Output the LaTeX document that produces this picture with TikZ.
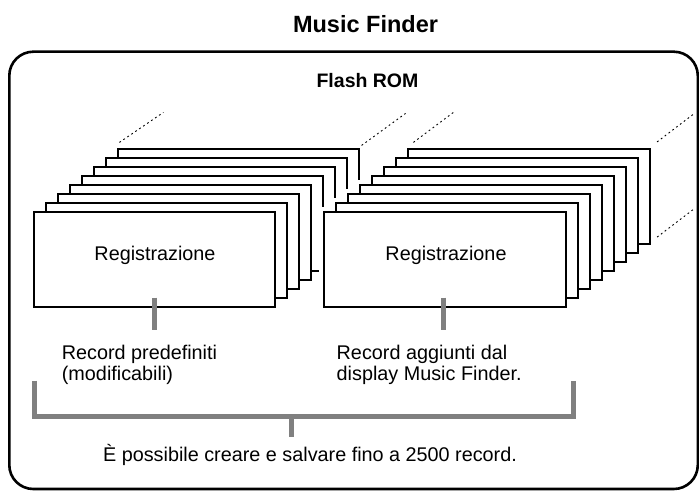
\documentclass[tikz,border=0pt]{standalone}
\usepackage{fontspec}
\setmainfont{Liberation Sans}
\definecolor{tickgray}{RGB}{128,128,128}
\begin{document}
\begin{tikzpicture}[x=1pt,y=-1pt,
  card/.style={draw=black, fill=white, line width=1.2pt, minimum height=95pt, inner sep=0pt},
  halo/.style={draw=white, fill=white, line width=10pt, minimum height=95pt, inner sep=0pt},
  tickln/.style={draw=tickgray, line width=5pt, line join=miter},
  dashln/.style={line width=0.9pt, dash pattern=on 1.8pt off 3pt},
  body/.style={font=\fontsize{19.8}{21}\selectfont, inner sep=0pt, align=left},
]
\clip (0,0) rectangle (699,492);
\node[draw, line width=2.6pt, rounded corners=24pt, minimum width=688.5pt, minimum height=437.3pt, inner sep=0pt] (frame) at (353.55,270.35) {};

\node[font=\bfseries\fontsize{23.5}{26}\selectfont, anchor=base, inner sep=0pt] (title) at (365.5,32.7) {Music Finder};
\node[font=\bfseries\fontsize{19.5}{21}\selectfont, anchor=base, inner sep=0pt] (rom) at (367.5,87.3) {Flash ROM};

% left stack
\foreach \k in {7,...,0} \node[card, minimum width=241pt] (L\k) at ({154.5+12*\k},{259.5-9*\k}) {};
% right stack with white halo
\foreach \k in {7,...,0} \node[halo, minimum width=242pt] (H\k) at ({445+12*\k},{259.5-9*\k}) {};
\foreach \k in {7,...,0} \node[card, minimum width=242pt] (R\k) at ({445+12*\k},{259.5-9*\k}) {};

% dashed continuation lines
\draw[dashln] ([shift={(2pt,6pt)}]L7.north west) -- ++(44pt,30pt);
\draw[dashln] ([shift={(2pt,3pt)}]L7.north east) -- ++(44pt,32pt);
\draw[dashln] ([shift={(6pt,6pt)}]R7.north west) -- ++(40pt,30pt);
\draw[dashln] ([shift={(6.5pt,6.5pt)}]R7.north east) -- ++(38pt,29pt);
\draw[dashln] ([shift={(6.5pt,7.5pt)}]R7.south east) -- ++(38pt,29pt);

\node[body, anchor=base] (LReg) at (155,260) {Registrazione};
\node[body, anchor=base] (RReg) at (446,260) {Registrazione};

\node[body, anchor=north west] (Llab) at (61.7,345) {Record predefiniti\\(modificabili)};
\node[body, anchor=north west] (Rlab) at (336.5,345) {Record aggiunti dal\\display Music Finder.};

\draw[tickln] ([yshift=10pt]L0.south) -- ([yshift=-22pt]L0.south);
\draw[tickln] ([xshift=-1.5pt,yshift=10pt]R0.south) -- ([xshift=-1.5pt,yshift=-22pt]R0.south);

\coordinate (bL) at (34.7,380.7);
\coordinate (bLc) at (34.7,416.7);
\coordinate (bRc) at (573.5,416.7);
\coordinate (bR) at (573.5,380.7);
\coordinate (bM) at (291.5,416.7);
\coordinate (bT) at (291.5,436.7);
\draw[tickln] (bL) -- (bLc) -- (bRc) -- (bR);
\draw[tickln] (bM) -- (bT);

\node[body, anchor=base west] (note) at (102.9,461.7) {È possibile creare e salvare fino a 2500 record.};
\end{tikzpicture}
\end{document}
